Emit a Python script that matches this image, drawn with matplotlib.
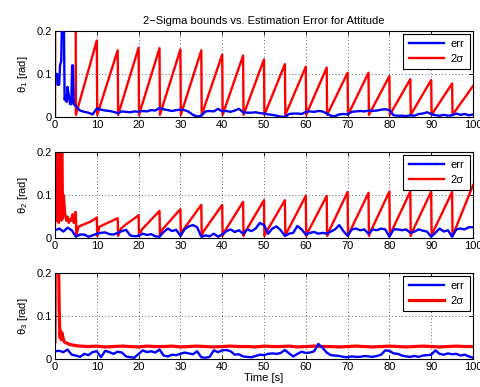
import matplotlib
matplotlib.use("Agg")
import matplotlib.pyplot as plt

plt.rcParams['font.family'] = ['Liberation Sans', 'DejaVu Sans']
plt.rcParams['mathtext.fontset'] = 'custom'
plt.rcParams['mathtext.rm'] = 'Liberation Sans'
plt.rcParams['mathtext.it'] = 'Liberation Sans'
plt.rcParams['mathtext.default'] = 'regular'

# ---------------- data ----------------
title = "2\u2212Sigma bounds vs. Estimation Error for Attitude"
ylabels = ["\u03b8$_1$ [rad]", "\u03b8$_2$ [rad]", "\u03b8$_3$ [rad]"]
xlabel = "Time [s]"
legend_labels = ["err", "2\u03c3"]
xticks = [0, 10, 20, 30, 40, 50, 60, 70, 80, 90, 100]
yticks = [0, 0.1, 0.2]
ytick_labels = ["0", "0.1", "0.2"]

# theta_1 estimation error
err1_t = [0, 0.5, 0.6, 1.0, 1.2, 1.5, 1.7, 2.1, 2.3, 2.6, 2.8, 3.0, 3.3, 3.6, 3.9, 4.1, 4.3, 4.5, 5.0,
          6, 7, 8, 9, 10, 11, 12, 13, 14, 15, 16, 17, 18, 19, 20, 21, 22, 23, 24, 25, 26, 27, 28, 29,
          30, 31, 32, 33, 34, 35, 36, 37, 38, 39, 40, 41, 42, 43, 44, 45, 46, 47, 48, 49, 50, 51, 52,
          53, 54, 55, 56, 57, 58, 59, 60, 61, 62, 63, 64, 65, 66, 67, 68, 69, 70, 71, 72, 73, 74, 75,
          76, 77, 78, 79, 80, 81, 82, 83, 84, 85, 86, 87, 88, 89, 90, 91, 92, 93, 94, 95, 96, 97, 98,
          99, 100]
err1 = [0.10, 0.10, 0.075, 0.075, 0.12, 0.13, 0.25, 0.25, 0.04, 0.05, 0.035, 0.07, 0.05, 0.03, 0.03,
        0.12, 0.12, 0.03, 0.025,
        0.015, 0.012, 0.010, 0.006, 0.020, 0.017, 0.015, 0.014, 0.012, 0.009, 0.013, 0.012, 0.011,
        0.013, 0.012, 0.014, 0.013, 0.016, 0.015, 0.021, 0.018, 0.016, 0.014, 0.016, 0.017, 0.016,
        0.012, 0.005, 0.001, 0.003, 0.013, 0.014, 0.013, 0.019, 0.013, 0.014, 0.012, 0.015, 0.019,
        0.011, 0.010, 0.010, 0.011, 0.009, 0.008, 0.006, 0.005, 0.003, 0.001, 0.000, 0.007, 0.008,
        0.008, 0.007, 0.012, 0.013, 0.012, 0.014, 0.013, 0.008, 0.003, 0.002, 0.006, 0.007, 0.006,
        0.012, 0.013, 0.014, 0.013, 0.015, 0.014, 0.015, 0.017, 0.018, 0.016, 0.004, 0.003, 0.003,
        0.002, 0.004, 0.003, 0.007, 0.008, 0.011, 0.007, 0.004, 0.003, 0.005, 0.003, 0.004, 0.008,
        0.005, 0.007, 0.004, 0.006]

# theta_1 2-sigma bound (vertices of the sawtooth)
sig1_t = [0, 0.1, 4.9, 5.0, 10.0, 10.1, 15.0, 15.1, 20.0, 20.1, 25.0, 25.1, 30.0, 30.1, 35.0, 35.1,
          40.0, 40.1, 45.0, 45.1, 50.0, 50.1, 55.0, 55.1, 60.0, 60.1, 65.0, 65.1, 70.0, 70.1, 75.0,
          75.1, 80.0, 80.1, 85.0, 85.1, 90.0, 90.1, 95.0, 95.1, 100.0]
sig1 = [0.0, 0.5, 0.5, 0.005, 0.178, 0.005, 0.155, 0.005, 0.161, 0.005, 0.160, 0.005, 0.157, 0.005,
        0.155, 0.005, 0.145, 0.005, 0.143, 0.005, 0.134, 0.005, 0.123, 0.005, 0.117, 0.005, 0.115,
        0.005, 0.103, 0.005, 0.103, 0.005, 0.095, 0.005, 0.088, 0.005, 0.086, 0.005, 0.078, 0.005,
        0.072]

# theta_2 estimation error (1 s samples)
err2_t = list(range(0, 101))
err2 = [0.018, 0.022, 0.015, 0.024, 0.018, 0.003, 0.008, 0.008, 0.003, 0.006, 0.010, 0.012, 0.013,
        0.009, 0.008, 0.012, 0.016, 0.019, 0.006, 0.004, 0.005, 0.010, 0.007, 0.009, 0.004, 0.003,
        0.014, 0.022, 0.016, 0.019, 0.005, 0.020, 0.027, 0.030, 0.025, 0.003, 0.006, 0.004, 0.010,
        0.003, 0.008, 0.016, 0.020, 0.014, 0.018, 0.010, 0.020, 0.016, 0.022, 0.035, 0.030, 0.010,
        0.022, 0.027, 0.018, 0.005, 0.010, 0.012, 0.028, 0.020, 0.008, 0.012, 0.014, 0.010, 0.012,
        0.010, 0.015, 0.020, 0.030, 0.016, 0.005, 0.020, 0.022, 0.018, 0.020, 0.010, 0.020, 0.018,
        0.022, 0.020, 0.003, 0.020, 0.020, 0.018, 0.020, 0.012, 0.015, 0.020, 0.017, 0.015, 0.003,
        0.012, 0.022, 0.015, 0.018, 0.003, 0.020, 0.022, 0.020, 0.025, 0.025]

# theta_2 2-sigma bound
sig2_t = [0, 0.15, 0.3, 0.45, 0.6, 0.75, 0.9, 1.05, 1.2, 1.35, 1.5, 1.7, 1.9, 2.1, 2.4, 2.7, 3.0, 3.3,
          3.6, 3.9, 4.2, 4.5, 4.8, 5.0, 5.1, 5.6, 6.5, 7.5, 8.5, 9.5, 10.0,
          10.1, 10.6, 11.5, 12.5, 13.5, 14.5, 15.0,
          15.1, 15.8, 17.0, 18.5, 20.0, 20.1, 20.8, 25.0, 25.1, 25.7, 30.0, 30.1, 30.6, 35.0,
          35.1, 35.5, 40.0, 40.1, 40.5, 45.0, 45.1, 45.5, 50.0, 50.1, 50.5, 55.0, 55.1, 55.5, 60.0,
          60.1, 60.5, 65.0, 65.1, 65.5, 70.0, 70.1, 70.5, 75.0, 75.1, 75.5, 80.0, 80.1, 80.5, 85.0,
          85.1, 85.5, 90.0, 90.1, 90.5, 95.0, 95.1, 95.5, 100.0]
sig2 = [0.030, 0.300, 0.040, 0.300, 0.050, 0.250, 0.035, 0.300, 0.060, 0.200, 0.040, 0.300, 0.045,
        0.100, 0.060, 0.040, 0.050, 0.035, 0.045, 0.040, 0.055, 0.035, 0.060, 0.060, 0.005, 0.026,
        0.030, 0.034, 0.038, 0.044, 0.048,
        0.005, 0.026, 0.030, 0.035, 0.039, 0.044, 0.046,
        0.005, 0.022, 0.032, 0.042, 0.053, 0.005, 0.020, 0.063, 0.005, 0.020, 0.067, 0.005, 0.018,
        0.077, 0.005, 0.015, 0.077, 0.005, 0.014, 0.084, 0.005, 0.014, 0.088, 0.005, 0.013, 0.088,
        0.005, 0.014, 0.098, 0.005, 0.014, 0.098, 0.005, 0.015, 0.107, 0.005, 0.014, 0.105, 0.005,
        0.015, 0.108, 0.005, 0.015, 0.108, 0.005, 0.015, 0.108, 0.005, 0.015, 0.107, 0.005, 0.014,
        0.123]

# theta_3 estimation error (1 s samples)
err3_t = list(range(0, 101))
err3 = [0.018, 0.019, 0.016, 0.022, 0.010, 0.008, 0.005, 0.012, 0.009, 0.016, 0.018, 0.004, 0.019,
        0.016, 0.012, 0.017, 0.015, 0.006, 0.004, 0.003, 0.012, 0.020, 0.016, 0.018, 0.015, 0.022,
        0.008, 0.006, 0.010, 0.009, 0.012, 0.015, 0.013, 0.011, 0.018, 0.004, 0.003, 0.005, 0.020,
        0.016, 0.020, 0.021, 0.018, 0.010, 0.011, 0.006, 0.005, 0.004, 0.007, 0.010, 0.009, 0.012,
        0.013, 0.012, 0.014, 0.021, 0.013, 0.006, 0.012, 0.017, 0.014, 0.015, 0.018, 0.035, 0.026,
        0.015, 0.009, 0.008, 0.007, 0.005, 0.004, 0.006, 0.005, 0.005, 0.007, 0.006, 0.005, 0.007,
        0.010, 0.020, 0.019, 0.013, 0.012, 0.008, 0.006, 0.005, 0.007, 0.005, 0.008, 0.009, 0.010,
        0.020, 0.012, 0.010, 0.013, 0.011, 0.012, 0.008, 0.010, 0.006, 0.003]

# theta_3 2-sigma bound
sig3_t = [0, 0.1, 0.7, 0.9, 1.0, 1.1, 1.2, 1.35, 1.5, 1.7, 1.9, 2.2, 2.6, 3.0, 3.5, 4.0, 5.0, 6.0,
          8, 10, 12, 14, 16, 18, 20, 22, 24, 26, 28, 30, 32, 34, 36, 38, 40, 42, 44, 46, 48, 50, 52,
          54, 56, 58, 60, 62, 64, 66, 68, 70, 72, 74, 76, 78, 80, 82, 84, 86, 88, 90, 92, 94, 96, 98,
          100]
sig3 = [0.040, 0.400, 0.400, 0.200, 0.120, 0.080, 0.050, 0.065, 0.045, 0.060, 0.050, 0.040, 0.038,
        0.036, 0.034, 0.033, 0.031, 0.030,
        0.029, 0.030, 0.028, 0.029, 0.030, 0.029, 0.028, 0.030, 0.029, 0.029, 0.030, 0.028, 0.029,
        0.030, 0.029, 0.028, 0.029, 0.030, 0.029, 0.029, 0.028, 0.030, 0.029, 0.029, 0.030, 0.028,
        0.029, 0.030, 0.029, 0.029, 0.028, 0.029, 0.030, 0.029, 0.028, 0.029, 0.030, 0.029, 0.028,
        0.029, 0.030, 0.029, 0.028, 0.029, 0.030, 0.029, 0.029]

# ---------------- plotting ----------------
W, H = 481, 387
fig = plt.figure(figsize=(W / 100, H / 100), dpi=100)

boxes = [(55, 31, 473, 117), (55, 152, 473, 238), (55, 273, 473, 359)]
series = [(err1_t, err1, sig1_t, sig1, 1.7),
          (err2_t, err2, sig2_t, sig2, 1.7),
          (err3_t, err3, sig3_t, sig3, 2.3)]

fs = 8
axes = []
for i, (box, (et, ev, st, sv, slw)) in enumerate(zip(boxes, series)):
    x0, y0, x1, y1 = box
    ax = fig.add_axes([x0 / W, 1 - y1 / H, (x1 - x0) / W, (y1 - y0) / H])
    ax.plot(et, ev, color=(0, 0, 1), lw=1.7, label=legend_labels[0], zorder=3)
    ax.plot(st, sv, color=(1, 0, 0), lw=slw, label=legend_labels[1], zorder=2)
    ax.set_xlim(0, 100)
    ax.set_ylim(0, 0.2)
    ax.set_xticks(xticks)
    ax.set_xticklabels([str(v) for v in xticks], fontsize=fs)
    ax.set_yticks(yticks)
    ax.set_yticklabels(ytick_labels, fontsize=fs)
    ax.tick_params(direction='in', length=3, width=0.6, top=True, right=True, pad=2)
    ax.grid(True, linestyle=(0, (1, 3)), color='black', lw=0.6, alpha=0.8)
    for sp in ax.spines.values():
        sp.set_linewidth(0.8)
    ax.set_ylabel(ylabels[i], fontsize=fs, labelpad=5)
    leg = ax.legend(loc='upper right', fontsize=fs, handlelength=3.2, handletextpad=0.6,
                    borderaxespad=0.25, fancybox=False, framealpha=1, borderpad=0.5,
                    labelspacing=0.4)
    leg.get_frame().set_edgecolor('black')
    leg.get_frame().set_linewidth(0.8)
    axes.append(ax)

axes[0].set_title(title, fontsize=fs, pad=5)
axes[2].set_xlabel(xlabel, fontsize=fs, labelpad=1)

fig.savefig("out.png", dpi=100)
